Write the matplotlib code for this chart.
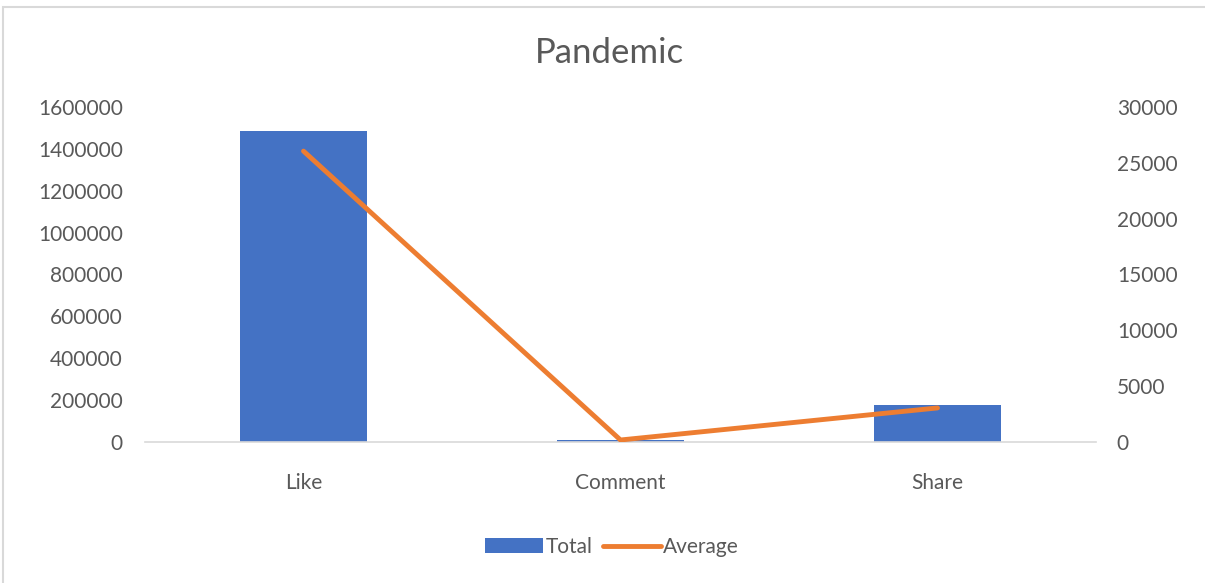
import matplotlib
matplotlib.use("Agg")
import matplotlib.pyplot as plt
from matplotlib.patches import Rectangle

categories = ["Like", "Comment", "Share"]
total = [1485000, 10000, 177000]
average = [26050, 180, 3050]
left_ticks = [0, 200000, 400000, 600000, 800000, 1000000, 1200000, 1400000, 1600000]
right_ticks = [0, 5000, 10000, 15000, 20000, 25000, 30000]

plt.rcParams['font.family'] = ['Lato', 'DejaVu Sans']
txt = '#595959'

fig = plt.figure(figsize=(12.05, 5.83), dpi=100)
fig.patches.append(Rectangle((3/1205, -0.05), 1.0, 1.05 - 7/583, transform=fig.transFigure,
                             fill=False, edgecolor='#d9d9d9', linewidth=1.5))

ax = fig.add_axes([145/1205, 1 - 442/583, (1096 - 145)/1205, (442 - 107)/583])
x = list(range(len(categories)))
bars = ax.bar(x, total, width=0.4, color='#4472c4', label='Total', zorder=2)
ax.set_xlim(-0.5, 2.5)
ax.set_ylim(0, 1600000)
ax.set_yticks(left_ticks)
ax.set_yticklabels([str(t) for t in left_ticks])
ax.set_xticks(x)
ax.set_xticklabels(categories)
for s in ['top', 'right', 'left']:
    ax.spines[s].set_visible(False)
ax.spines['bottom'].set_color('#d9d9d9')
ax.spines['bottom'].set_linewidth(1.2)
ax.tick_params(axis='both', length=0, colors=txt, labelsize=15)
ax.tick_params(axis='x', pad=22)
ax.tick_params(axis='y', pad=16)

ax2 = ax.twinx()
line, = ax2.plot(x, average, color='#ed7d31', linewidth=3.5, label='Average',
                 solid_capstyle='round', zorder=3)
ax2.set_ylim(0, 30000)
ax2.set_yticks(right_ticks)
ax2.set_yticklabels([str(t) for t in right_ticks])
for s in ['top', 'right', 'left', 'bottom']:
    ax2.spines[s].set_visible(False)
ax2.tick_params(axis='y', length=0, colors=txt, labelsize=15, pad=15)

fig.text(609/1205, 1 - 53/583, 'Pandemic', ha='center', va='center', fontsize=25, color=txt)

leg = fig.legend([bars, line], ['Total', 'Average'], loc='center', bbox_to_anchor=(612/1205, 1 - 547/583),
                 ncol=2, frameon=False, fontsize=15, labelcolor=txt, handlelength=2.8,
                 handletextpad=0.1, columnspacing=0.5)

fig.savefig('out.png', dpi=100)
